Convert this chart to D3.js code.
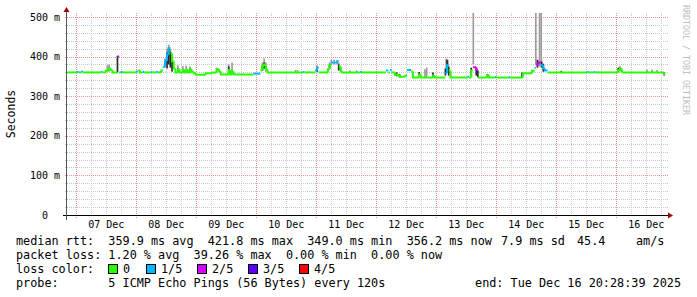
<!DOCTYPE html>
<html>
<head>
<meta charset="utf-8">
<script src="https://cdn.jsdelivr.net/npm/d3@7"></script>
<style>
  body { margin: 0; background: #fff; }
  svg { display: block; }
  text { font-family: "DejaVu Sans Mono", monospace; }
</style>
</head>
<body>
<svg width="697" height="297"></svg>
<script>
// median rtt in ms, step values: [start "day hh:mm" (Dec 2025), ms, lost pings of 5]
// last row only marks where the line stops
var median = [
  ["06 20:28", 360, 0], ["07 00:20", 361, 1], ["07 01:10", 360, 0], ["07 02:10", 362, 1],
  ["07 03:00", 360, 0], ["07 10:00", 361, 1], ["07 10:40", 360, 0], ["07 12:00", 364, 0],
  ["07 13:00", 370, 0], ["07 14:00", 366, 0], ["07 14:40", 360, 0], ["07 16:40", 400, 2],
  ["07 17:20", 360, 0], ["07 18:00", 361, 1], ["07 18:50", 360, 0], ["08 00:00", 362, 1],
  ["08 00:50", 365, 0], ["08 01:40", 360, 0], ["08 02:40", 361, 1], ["08 03:20", 360, 0],
  ["08 06:00", 361, 1], ["08 06:40", 360, 0], ["08 08:10", 361, 1], ["08 08:50", 360, 0],
  ["08 10:10", 365, 0], ["08 10:50", 374, 1], ["08 11:40", 390, 1], ["08 12:30", 405, 1],
  ["08 13:10", 421.8, 1], ["08 13:50", 408, 0], ["08 14:30", 388, 0], ["08 15:10", 370, 0],
  ["08 15:50", 360, 0], ["08 16:50", 368, 0], ["08 17:30", 360, 0], ["08 18:50", 366, 0],
  ["08 19:30", 360, 0], ["08 20:10", 367, 0], ["08 20:50", 360, 0], ["08 21:40", 368, 0],
  ["08 22:20", 361, 0], ["08 23:20", 357, 0], ["09 00:10", 354, 0], ["09 04:00", 358, 0],
  ["09 06:40", 360, 0], ["09 08:20", 368, 0], ["09 09:20", 362, 0], ["09 10:00", 355, 0],
  ["09 13:10", 366, 0], ["09 13:50", 355, 0], ["09 14:30", 362, 0], ["09 15:10", 355, 0],
  ["09 23:00", 357, 1], ["10 01:50", 365, 0], ["10 02:40", 376, 0], ["10 03:20", 380, 0],
  ["10 04:00", 368, 0], ["10 04:40", 360, 0], ["10 18:50", 361, 1], ["10 19:30", 360, 0],
  ["10 23:40", 365, 1], ["11 00:30", 372, 1], ["11 01:10", 360, 0], ["11 04:50", 368, 0],
  ["11 05:30", 378, 0], ["11 06:10", 385, 1], ["11 08:30", 388, 1], ["11 09:10", 375, 0],
  ["11 10:00", 362, 0], ["11 10:40", 360, 0], ["11 17:40", 361, 1], ["11 18:20", 360, 0],
  ["12 04:00", 365, 1], ["12 05:00", 360, 0], ["12 05:40", 366, 1], ["12 06:20", 360, 0],
  ["12 07:40", 354, 0], ["12 09:30", 349, 0], ["12 11:50", 352, 0], ["12 12:30", 366, 1],
  ["12 14:10", 362, 0], ["12 14:50", 347, 0], ["12 17:20", 355, 0], ["12 18:00", 347, 0],
  ["12 22:50", 352, 0], ["12 23:30", 347, 0], ["13 03:50", 358, 1], ["13 04:30", 378, 1],
  ["13 05:10", 365, 0], ["13 05:50", 347, 0], ["13 12:40", 349, 1], ["13 13:20", 347, 0],
  ["13 14:10", 365, 0], ["13 14:50", 373, 2], ["13 16:10", 367, 2], ["13 16:50", 347, 0],
  ["13 20:40", 353, 0], ["13 21:20", 347, 0], ["13 23:40", 348, 1], ["14 00:20", 347, 0],
  ["14 05:00", 348, 1], ["14 05:40", 347, 0], ["14 10:50", 358, 0], ["14 14:30", 364, 0],
  ["14 15:30", 372, 1], ["14 16:00", 380, 2], ["14 17:10", 385, 2], ["14 18:00", 378, 1],
  ["14 19:00", 370, 1], ["14 19:40", 365, 1], ["14 20:40", 360, 0], ["15 12:30", 361, 1],
  ["15 13:10", 360, 0], ["15 15:10", 361, 1], ["15 15:50", 360, 0], ["16 01:00", 366, 0],
  ["16 01:40", 370, 0], ["16 02:20", 362, 0], ["16 03:00", 360, 0], ["16 19:20", 356, 0],
  ["16 19:50", 356, 0]
];

// smoke, spread of all 5 pings: [time, low ms, high ms]
var smokeOuter = [
  ["07 12:40", 362, 378], ["07 13:20", 362, 380], ["08 11:40", 372, 395], ["08 12:30", 385, 420],
  ["08 13:10", 395, 430], ["08 13:50", 380, 420], ["08 14:30", 370, 400], ["08 16:50", 360, 378],
  ["08 18:50", 360, 376], ["08 20:10", 360, 377], ["08 21:40", 360, 375], ["09 08:20", 362, 372],
  ["09 13:10", 355, 380], ["09 14:30", 355, 385], ["10 02:40", 365, 385], ["10 03:20", 370, 395],
  ["10 04:00", 362, 385], ["10 15:50", 360, 366], ["10 16:40", 360, 366], ["11 00:30", 360, 378],
  ["11 05:30", 370, 385], ["11 06:10", 378, 392], ["11 07:20", 380, 392], ["11 08:30", 380, 390],
  ["11 09:10", 365, 385], ["11 13:40", 360, 365], ["11 16:20", 360, 365], ["12 19:40", 348, 368],
  ["12 20:20", 348, 372], ["13 04:10", 365, 395], ["13 04:50", 360, 392], ["13 15:00", 380, 510],
  ["14 16:00", 380, 510], ["14 17:30", 375, 510], ["14 18:10", 375, 510], ["16 01:40", 362, 376],
  ["16 12:30", 360, 367], ["16 14:30", 360, 367], ["16 16:30", 360, 366]
];

// smoke, middle pings (dense part)
var smokeInner = [
  ["07 16:40", 360, 402], ["08 12:30", 370, 410], ["08 13:10", 380, 422], ["08 13:50", 372, 412],
  ["08 14:30", 362, 392], ["08 16:50", 360, 370], ["08 18:50", 360, 368], ["08 20:10", 360, 368],
  ["08 21:40", 360, 370], ["09 13:10", 356, 375], ["10 02:40", 365, 378], ["10 03:20", 370, 385],
  ["11 00:30", 362, 374], ["11 05:30", 370, 380], ["11 09:10", 365, 380], ["12 08:20", 350, 360],
  ["12 09:30", 348, 356], ["12 17:20", 348, 361], ["12 22:50", 348, 360], ["13 03:50", 352, 370],
  ["13 04:30", 360, 392], ["13 05:10", 352, 375], ["13 14:10", 350, 372], ["13 16:10", 352, 372],
  ["13 16:50", 348, 365], ["13 20:40", 348, 356], ["14 10:30", 348, 360], ["14 16:40", 372, 392],
  ["14 18:20", 372, 388], ["14 19:00", 362, 382], ["15 02:10", 358, 364], ["16 01:00", 362, 372],
  ["16 19:20", 352, 360]
];

var yTicks = [0, 100, 200, 300, 400, 500];
var lossLabels = ["0", "1/5", "2/5", "3/5", "4/5"];
var lossColors = ["#26ff00", "#00b8ff", "#d400ff", "#5e00ff", "#ff0000"];

var rttLine = "median rtt:  359.9 ms avg  421.8 ms max  349.0 ms min  356.2 ms now";
var rttExtra = [["7.9 ms sd", 501], ["45.4", 577], ["am/s", 636]];
var lossLine = "packet loss: 1.20 % avg  39.26 % max  0.00 % min  0.00 % now";
var probeText = "probe:       5 ICMP Echo Pings (56 Bytes) every 120s";
var endText = "end: Tue Dec 16 20:28:39 2025";

var svg = d3.select("svg"),
    mLeft = 67, mRight = 667, mTop = 13, mBottom = 215;

var parse = d3.timeParse("%Y-%m-%d %H:%M");
function t(s) { return parse("2025-12-" + s); }

var x = d3.scaleTime()
    .domain([new Date(2025, 11, 6, 20, 28, 39), new Date(2025, 11, 16, 20, 28, 39)])
    .range([mLeft, mRight]);
var y = d3.scaleLinear().domain([0, 510]).range([mBottom, mTop]);

function px(v) { return Math.round(v) + 0.5; }

// grid: minor every 6 h / 20 ms, major every day / 100 ms
var grid = svg.append("g");
grid.selectAll(".vmin").data(x.ticks(d3.timeHour.every(6)))
  .join("line")
    .attr("x1", function(d) { return px(x(d)); })
    .attr("x2", function(d) { return px(x(d)); })
    .attr("y1", mTop).attr("y2", mBottom)
    .attr("stroke", "#c8c8c8").attr("stroke-dasharray", "1,1");
grid.selectAll(".hmin").data(d3.range(20, 501, 20))
  .join("line")
    .attr("x1", mLeft - 2).attr("x2", mRight + 1)
    .attr("y1", function(d) { return px(y(d)); })
    .attr("y2", function(d) { return px(y(d)); })
    .attr("stroke", "#c8c8c8").attr("stroke-dasharray", "1,1");
grid.selectAll(".vmaj").data(x.ticks(d3.timeDay.every(1)))
  .join("line")
    .attr("x1", function(d) { return px(x(d)); })
    .attr("x2", function(d) { return px(x(d)); })
    .attr("y1", mTop).attr("y2", mBottom + 3)
    .attr("stroke", "#f09090").attr("stroke-dasharray", "1,1");
grid.selectAll(".hmaj").data(yTicks.slice(1))
  .join("line")
    .attr("x1", mLeft - 2).attr("x2", mRight + 1)
    .attr("y1", function(d) { return px(y(d)); })
    .attr("y2", function(d) { return px(y(d)); })
    .attr("stroke", "#f09090").attr("stroke-dasharray", "1,1");

// smoke bars, one rrd step wide
var step = 40 * 60000;
function barX(d) { return x(new Date(+t(d[0]) - step / 2)); }
function barW(d) { return x(new Date(+t(d[0]) + step / 2)) - barX(d); }

svg.append("g").selectAll("rect").data(smokeOuter)
  .join("rect")
    .attr("x", barX).attr("width", barW)
    .attr("y", function(d) { return y(d[2]); })
    .attr("height", function(d) { return y(d[1]) - y(d[2]); })
    .attr("fill", "#9a9a9a");

svg.append("g").selectAll("rect").data(smokeInner)
  .join("rect")
    .attr("x", barX).attr("width", barW)
    .attr("y", function(d) { return y(d[2]); })
    .attr("height", function(d) { return y(d[1]) - y(d[2]); })
    .attr("fill", "#2a2a2a");

// median line, coloured by loss; a change of loss colour breaks the line
var segs = median.slice(0, -1).map(function(d, i) {
  var prev = i > 0 ? median[i - 1] : d;
  return {
    x0: x(t(d[0])), x1: x(t(median[i + 1][0])),
    yPrev: y(prev[2] === d[2] ? prev[1] : d[1]), y: y(d[1]), loss: d[2]
  };
});
svg.append("g").selectAll("path").data(segs)
  .join("path")
    .attr("d", function(s) { return "M" + s.x0 + "," + s.yPrev + "V" + s.y + "H" + s.x1; })
    .attr("fill", "none")
    .attr("stroke", function(s) { return lossColors[s.loss]; })
    .attr("stroke-width", 2);

// axes
var xAxis = svg.append("g")
    .attr("transform", "translate(0," + mBottom + ")")
    .call(d3.axisBottom(x)
      .tickValues(d3.timeDay.range(x.domain()[0], x.domain()[1]).map(function(d) { return d3.timeHour.offset(d, 12); }))
      .tickFormat(d3.timeFormat("%d %b"))
      .tickSize(0).tickPadding(6));
xAxis.select(".domain").remove();
xAxis.selectAll("text").attr("font-size", 10).attr("font-family", "DejaVu Sans Mono").attr("fill", "#000");

var yAxis = svg.append("g")
    .attr("transform", "translate(" + mLeft + ",0)")
    .call(d3.axisLeft(y).tickValues(yTicks)
      .tickFormat(function(d) { return d === 0 ? "0" : d + " m"; })
      .tickSize(0));
yAxis.select(".domain").remove();
yAxis.selectAll("text").attr("font-size", 10).attr("font-family", "DejaVu Sans Mono")
    .attr("fill", "#000").attr("text-anchor", "middle").attr("x", -22);

svg.append("line").attr("x1", 63).attr("x2", 669).attr("y1", mBottom + 0.5).attr("y2", mBottom + 0.5)
    .attr("stroke", "#000");
svg.append("line").attr("x1", mLeft - 0.5).attr("x2", mLeft - 0.5).attr("y1", 220).attr("y2", 10)
    .attr("stroke", "#555");
svg.append("path").attr("d", "M668,212.5L673,215.5L668,218.5Z").attr("fill", "#a00000");
svg.append("path").attr("d", "M63.5,12L66.5,7L69.5,12Z").attr("fill", "#a00000");

svg.append("text")
    .attr("transform", "translate(15,114) rotate(-90)")
    .attr("text-anchor", "middle").attr("font-size", 11.5).attr("fill", "#000")
    .text("Seconds");

svg.append("text")
    .attr("transform", "translate(683,5) rotate(90)")
    .attr("font-size", 8.3).attr("fill", "#bdbdbd")
    .text("RRDTOOL / TOBI OETIKER");

// legend
var legend = svg.append("g").attr("font-size", 11.8).attr("fill", "#000");
legend.append("text").attr("x", 16).attr("y", 245).style("white-space", "pre").text(rttLine);
rttExtra.forEach(function(r) {
  legend.append("text").attr("x", r[1]).attr("y", 245).text(r[0]);
});
legend.append("text").attr("x", 16).attr("y", 259).style("white-space", "pre").text(lossLine);
legend.append("text").attr("x", 16).attr("y", 273).text("loss color:");
var boxX = [108, 146, 197, 248, 299];
lossLabels.forEach(function(l, i) {
  legend.append("rect").attr("x", boxX[i] + 0.5).attr("y", 264.5).attr("width", 9).attr("height", 9)
      .attr("fill", lossColors[i]).attr("stroke", "#000");
  legend.append("text").attr("x", boxX[i] + 15).attr("y", 273).text(l);
});
legend.append("text").attr("x", 16).attr("y", 287).style("white-space", "pre").text(probeText);
legend.append("text").attr("x", 681).attr("y", 287).attr("text-anchor", "end").text(endText);
</script>
</body>
</html>
